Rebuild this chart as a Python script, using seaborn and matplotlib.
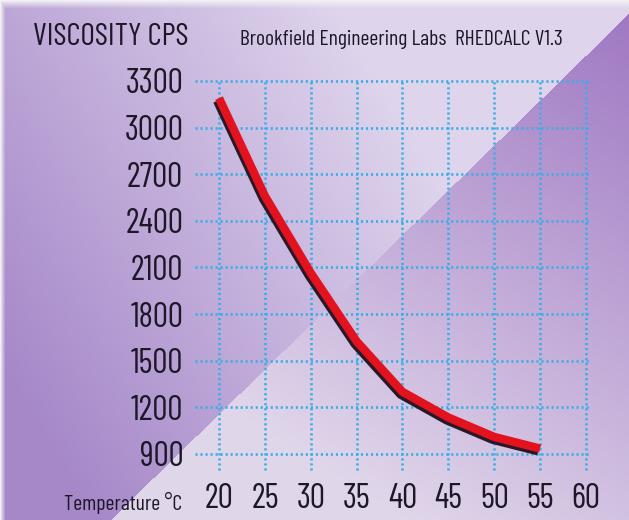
import numpy as np
import matplotlib
matplotlib.use("Agg")
import matplotlib.pyplot as plt
import matplotlib.patheffects as pe
import seaborn as sns
import pandas as pd

# ---- data ----
temperature_c = [20, 25, 30, 35, 40, 45, 50, 55]
viscosity_cps = [3190, 2560, 2065, 1625, 1300, 1135, 1010, 935]
x_ticks = [20, 25, 30, 35, 40, 45, 50, 55, 60]
y_ticks = [900, 1200, 1500, 1800, 2100, 2400, 2700, 3000, 3300]
y_title = "VISCOSITY CPS"
header = "Brookfield Engineering Labs  RHEDCALC V1.3"
x_title = "Temperature °C"

FONT = ["Barlow Condensed", "DejaVu Sans"]
TXT = "#1d1727"

W, H = 629, 520
fig = plt.figure(figsize=(W / 100, H / 100), dpi=100)

# ---- background (folded purple paper) ----
bg = fig.add_axes([0, 0, 1, 1])
yy, xx = np.mgrid[0:H, 0:W].astype(float)
side = (xx - 110) * (13 - 520) - (yy - 520) * (629 - 110)
upper = side > 0
u1 = np.clip((xx - 0.6 * yy + 220) / 550.0, 0, 1)[..., None]
D1 = np.array([166, 136, 201]); L1 = np.array([222, 212, 236])
c1 = D1 + (L1 - D1) * u1
u2 = np.clip(((629 - xx) + 1.6 * yy) / 1050.0, 0, 1)[..., None]
D2 = np.array([158, 118, 194]); L2 = np.array([224, 214, 234])
c2 = D2 + (L2 - D2) * u2
img = np.where(upper[..., None], c1, c2)
# scanned paper edges
top = np.clip((8 - yy) / 8.0, 0, 1)[..., None]
left = np.clip((5 - xx) / 5.0, 0, 1)[..., None]
edge = np.maximum(top, left)
img = img * (1 - edge) + np.array([242, 240, 245]) * edge
bg.imshow(img.astype(np.uint8), extent=(0, W, H, 0), aspect="auto", interpolation="bilinear")
bg.axis("off")

# ---- main axes ----
ax = fig.add_axes([195 / W, 1 - 470 / H, (590 - 195) / W, (470 - 81) / H])
ax.patch.set_alpha(0)
df = pd.DataFrame({"Temperature": temperature_c, "Viscosity": viscosity_cps})
sns.lineplot(data=df, x="Temperature", y="Viscosity", ax=ax, color="#e2121e",
             linewidth=6.0, zorder=3, solid_capstyle="butt",
             path_effects=[pe.SimpleLineShadow(offset=(-1.4, -2.0), shadow_color="#2a1828", alpha=1.0),
                           pe.Normal()])
ax.set_xlim(17.38, 60.44)
ax.set_ylim(797, 3300)
ax.set_xticks(x_ticks)
ax.set_yticks(y_ticks)
ax.set_xticklabels([str(v) for v in x_ticks])
ax.set_yticklabels([str(v) for v in y_ticks])
ax.set_xlabel("")
ax.set_ylabel("")
ax.set_axisbelow(True)
ax.grid(True, color="#3aaee6", linestyle=(0, (0.8, 1.1)), linewidth=1.9)
for gl in ax.get_xgridlines() + ax.get_ygridlines():
    gl.set_clip_on(False)
for s in ax.spines.values():
    s.set_visible(False)
ax.tick_params(axis="both", length=0, colors=TXT)
ax.tick_params(axis="y", pad=8.5)
ax.tick_params(axis="x", pad=9)

# ---- texts ----
t1 = fig.text(33 / W, 1 - 45 / H, y_title, ha="left", va="baseline", fontsize=19, color=TXT, family=FONT)
t2 = fig.text(240 / W, 1 - 45 / H, header, ha="left", va="baseline", fontsize=13.5, color=TXT, family=FONT)
t3 = fig.text(182 / W, 1 - 510 / H, x_title, ha="right", va="baseline", fontsize=14, color=TXT, family=FONT)

# tick label font size fitted to the reference digit size
probe = fig.text(0, 0, "3300", fontsize=20, family=FONT)
fig.canvas.draw()
r = fig.canvas.get_renderer()
tick_size = 20 * 58 / probe.get_window_extent(r).width
probe.remove()
for lab in ax.get_xticklabels() + ax.get_yticklabels():
    lab.set_fontfamily(FONT)
    lab.set_fontsize(tick_size)
    lab.set_color(TXT)

for t, target in ((t1, 156), (t2, 322), (t3, 118)):
    w = t.get_window_extent(r).width
    t.set_fontsize(t.get_fontsize() * target / w)

fig.savefig("out.png", dpi=100)
